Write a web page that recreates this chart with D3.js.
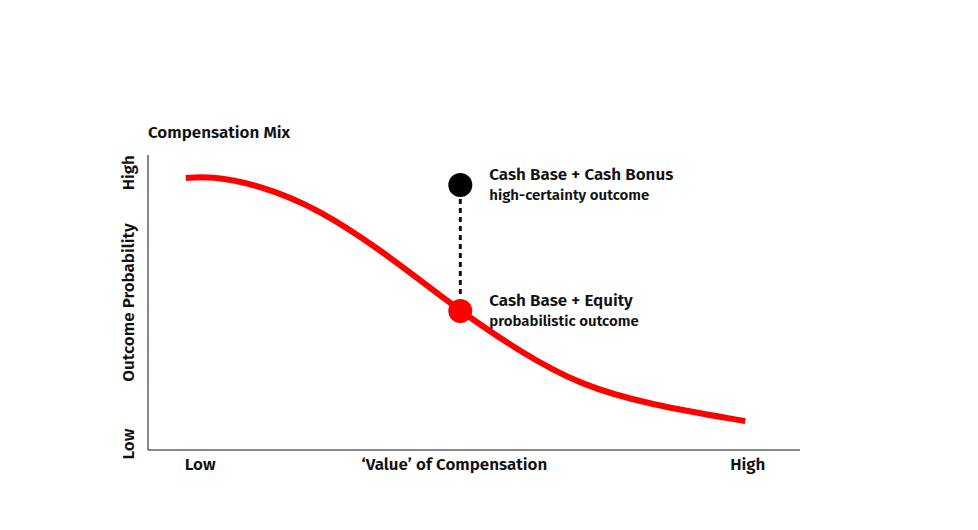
<!DOCTYPE html>
<html><head><meta charset="utf-8">
<script src="https://cdn.jsdelivr.net/npm/d3@7"></script>
<style>body{margin:0;background:#fff}text{font-family:"Fira Sans","Open Sans",sans-serif;font-weight:600;fill:#111}</style>
</head><body><svg id="c" width="978" height="530"></svg>
<script>
const curveX = [5.8, 9.5, 17.2, 26.4, 35.6, 41.7, 47.9, 57.1, 66.3, 77, 91.6];
const curveY = [92.2, 92.9, 89.8, 81.4, 67.8, 57.6, 47.1, 33.2, 22, 15.3, 9.8];
const pointLabels = ["Cash Base + Cash Bonus", "Cash Base + Equity"];
const pointSubs = ["high-certainty outcome", "probabilistic outcome"];
const pointX = [47.9, 47.9];
const pointY = [89.8, 47.1];
const pointColors = ["#000", "#f00"];
const xTicks = ["Low", "\u2018Value\u2019 of Compensation", "High"];
const xTickPos = [8, 47, 92];
const yTicks = ["Low", "Outcome Probability", "High"];
const yTickPos = [2, 50, 94];

const svg = d3.select("#c");
const x = d3.scaleLinear().domain([0,100]).range([148,800]);
const y = d3.scaleLinear().domain([0,100]).range([450,155]);
svg.append("line").attr("x1",148).attr("x2",148).attr("y1",155).attr("y2",450).attr("stroke","#111");
svg.append("line").attr("x1",148).attr("x2",800).attr("y1",450).attr("y2",450).attr("stroke","#111");
svg.append("text").attr("x",148).attr("y",138).attr("font-size",17).text("Compensation Mix");
xTicks.forEach((t,i)=>svg.append("text").attr("x",x(xTickPos[i])).attr("y",470).attr("text-anchor","middle").attr("font-size",17).text(t));
yTicks.forEach((t,i)=>svg.append("text").attr("transform",`translate(134,${y(yTickPos[i])}) rotate(-90)`).attr("text-anchor","middle").attr("font-size",17).text(t));
const data = curveX.map((v,i)=>[v,curveY[i]]);
svg.append("path").datum(data).attr("d",d3.line().x(d=>x(d[0])).y(d=>y(d[1])).curve(d3.curveBasis))
  .attr("fill","none").attr("stroke","#f00").attr("stroke-width",6);
svg.append("line").attr("x1",x(pointX[0])).attr("x2",x(pointX[0])).attr("y1",y(pointY[0])+14).attr("y2",y(pointY[1])-14)
  .attr("stroke","#111").attr("stroke-width",3).attr("stroke-dasharray","5,4");
pointX.forEach((v,i)=>{
  svg.append("circle").attr("cx",x(v)).attr("cy",y(pointY[i])).attr("r",12).attr("fill",pointColors[i]);
  svg.append("text").attr("x",x(v)+29).attr("y",y(pointY[i])-5).attr("font-size",17).text(pointLabels[i]);
  svg.append("text").attr("x",x(v)+29).attr("y",y(pointY[i])+15).attr("font-size",15).text(pointSubs[i]);
});
</script></body></html>
